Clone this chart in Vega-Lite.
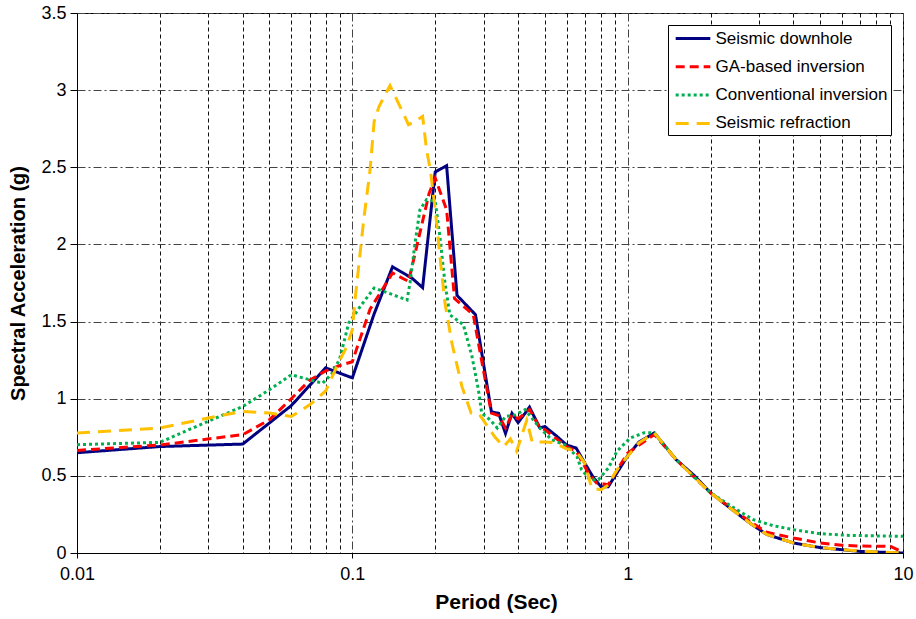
{
  "$schema": "https://vega.github.io/schema/vega-lite/v6.json",
  "autosize": "none",
  "width": 826,
  "height": 540,
  "padding": {"left": 77, "top": 13, "right": 13, "bottom": 66},
  "background": "white",
  "config": {
    "font": "Liberation Sans",
    "view": {"stroke": "black", "strokeWidth": 1}
  },
  "data": {"values": [
    {"series":"Seismic downhole","T":0.01,"Sa":0.65},
    {"series":"Seismic downhole","T":0.02,"Sa":0.69},
    {"series":"Seismic downhole","T":0.04,"Sa":0.706},
    {"series":"Seismic downhole","T":0.06,"Sa":0.955},
    {"series":"Seismic downhole","T":0.08,"Sa":1.2},
    {"series":"Seismic downhole","T":0.1,"Sa":1.135},
    {"series":"Seismic downhole","T":0.12,"Sa":1.55},
    {"series":"Seismic downhole","T":0.14,"Sa":1.855},
    {"series":"Seismic downhole","T":0.165,"Sa":1.78},
    {"series":"Seismic downhole","T":0.18,"Sa":1.72},
    {"series":"Seismic downhole","T":0.2,"Sa":2.47},
    {"series":"Seismic downhole","T":0.22,"Sa":2.51},
    {"series":"Seismic downhole","T":0.24,"Sa":1.67},
    {"series":"Seismic downhole","T":0.28,"Sa":1.545},
    {"series":"Seismic downhole","T":0.32,"Sa":0.915},
    {"series":"Seismic downhole","T":0.34,"Sa":0.905},
    {"series":"Seismic downhole","T":0.36,"Sa":0.775},
    {"series":"Seismic downhole","T":0.38,"Sa":0.905},
    {"series":"Seismic downhole","T":0.4,"Sa":0.845},
    {"series":"Seismic downhole","T":0.44,"Sa":0.945},
    {"series":"Seismic downhole","T":0.48,"Sa":0.81},
    {"series":"Seismic downhole","T":0.5,"Sa":0.82},
    {"series":"Seismic downhole","T":0.55,"Sa":0.76},
    {"series":"Seismic downhole","T":0.6,"Sa":0.7},
    {"series":"Seismic downhole","T":0.65,"Sa":0.68},
    {"series":"Seismic downhole","T":0.7,"Sa":0.58},
    {"series":"Seismic downhole","T":0.75,"Sa":0.49},
    {"series":"Seismic downhole","T":0.8,"Sa":0.43},
    {"series":"Seismic downhole","T":0.85,"Sa":0.43},
    {"series":"Seismic downhole","T":0.9,"Sa":0.5},
    {"series":"Seismic downhole","T":1.0,"Sa":0.63},
    {"series":"Seismic downhole","T":1.1,"Sa":0.72},
    {"series":"Seismic downhole","T":1.25,"Sa":0.778},
    {"series":"Seismic downhole","T":1.5,"Sa":0.605},
    {"series":"Seismic downhole","T":1.75,"Sa":0.5},
    {"series":"Seismic downhole","T":2.0,"Sa":0.39},
    {"series":"Seismic downhole","T":2.4,"Sa":0.28},
    {"series":"Seismic downhole","T":2.8,"Sa":0.19},
    {"series":"Seismic downhole","T":3.2,"Sa":0.12},
    {"series":"Seismic downhole","T":4,"Sa":0.065},
    {"series":"Seismic downhole","T":5,"Sa":0.035},
    {"series":"Seismic downhole","T":7,"Sa":0.01},
    {"series":"Seismic downhole","T":10,"Sa":0.0},

    {"series":"GA-based inversion","T":0.01,"Sa":0.665},
    {"series":"GA-based inversion","T":0.02,"Sa":0.7},
    {"series":"GA-based inversion","T":0.04,"Sa":0.767},
    {"series":"GA-based inversion","T":0.05,"Sa":0.864},
    {"series":"GA-based inversion","T":0.06,"Sa":1.0},
    {"series":"GA-based inversion","T":0.07,"Sa":1.12},
    {"series":"GA-based inversion","T":0.08,"Sa":1.18},
    {"series":"GA-based inversion","T":0.09,"Sa":1.215},
    {"series":"GA-based inversion","T":0.1,"Sa":1.24},
    {"series":"GA-based inversion","T":0.116,"Sa":1.58},
    {"series":"GA-based inversion","T":0.14,"Sa":1.815},
    {"series":"GA-based inversion","T":0.16,"Sa":1.76},
    {"series":"GA-based inversion","T":0.19,"Sa":2.33},
    {"series":"GA-based inversion","T":0.2,"Sa":2.43},
    {"series":"GA-based inversion","T":0.22,"Sa":2.225},
    {"series":"GA-based inversion","T":0.235,"Sa":1.65},
    {"series":"GA-based inversion","T":0.275,"Sa":1.544},
    {"series":"GA-based inversion","T":0.29,"Sa":1.317},
    {"series":"GA-based inversion","T":0.32,"Sa":0.907},
    {"series":"GA-based inversion","T":0.34,"Sa":0.89},
    {"series":"GA-based inversion","T":0.36,"Sa":0.81},
    {"series":"GA-based inversion","T":0.38,"Sa":0.896},
    {"series":"GA-based inversion","T":0.4,"Sa":0.87},
    {"series":"GA-based inversion","T":0.44,"Sa":0.93},
    {"series":"GA-based inversion","T":0.48,"Sa":0.81},
    {"series":"GA-based inversion","T":0.5,"Sa":0.8},
    {"series":"GA-based inversion","T":0.6,"Sa":0.69},
    {"series":"GA-based inversion","T":0.65,"Sa":0.66},
    {"series":"GA-based inversion","T":0.72,"Sa":0.518},
    {"series":"GA-based inversion","T":0.77,"Sa":0.454},
    {"series":"GA-based inversion","T":0.85,"Sa":0.443},
    {"series":"GA-based inversion","T":1.0,"Sa":0.648},
    {"series":"GA-based inversion","T":1.25,"Sa":0.768},
    {"series":"GA-based inversion","T":1.5,"Sa":0.605},
    {"series":"GA-based inversion","T":2.0,"Sa":0.39},
    {"series":"GA-based inversion","T":2.4,"Sa":0.285},
    {"series":"GA-based inversion","T":2.8,"Sa":0.2},
    {"series":"GA-based inversion","T":3.2,"Sa":0.135},
    {"series":"GA-based inversion","T":4,"Sa":0.097},
    {"series":"GA-based inversion","T":5,"Sa":0.065},
    {"series":"GA-based inversion","T":6,"Sa":0.05},
    {"series":"GA-based inversion","T":7,"Sa":0.045},
    {"series":"GA-based inversion","T":9,"Sa":0.043},
    {"series":"GA-based inversion","T":10,"Sa":0.005},

    {"series":"Conventional inversion","T":0.01,"Sa":0.702},
    {"series":"Conventional inversion","T":0.02,"Sa":0.717},
    {"series":"Conventional inversion","T":0.028,"Sa":0.831},
    {"series":"Conventional inversion","T":0.04,"Sa":0.95},
    {"series":"Conventional inversion","T":0.05,"Sa":1.058},
    {"series":"Conventional inversion","T":0.06,"Sa":1.155},
    {"series":"Conventional inversion","T":0.07,"Sa":1.123},
    {"series":"Conventional inversion","T":0.078,"Sa":1.1},
    {"series":"Conventional inversion","T":0.085,"Sa":1.17},
    {"series":"Conventional inversion","T":0.09,"Sa":1.26},
    {"series":"Conventional inversion","T":0.097,"Sa":1.49},
    {"series":"Conventional inversion","T":0.107,"Sa":1.6},
    {"series":"Conventional inversion","T":0.12,"Sa":1.717},
    {"series":"Conventional inversion","T":0.135,"Sa":1.685},
    {"series":"Conventional inversion","T":0.158,"Sa":1.64},
    {"series":"Conventional inversion","T":0.162,"Sa":1.75},
    {"series":"Conventional inversion","T":0.169,"Sa":2.01},
    {"series":"Conventional inversion","T":0.176,"Sa":2.225},
    {"series":"Conventional inversion","T":0.186,"Sa":2.29},
    {"series":"Conventional inversion","T":0.2,"Sa":2.28},
    {"series":"Conventional inversion","T":0.208,"Sa":2.05},
    {"series":"Conventional inversion","T":0.217,"Sa":1.75},
    {"series":"Conventional inversion","T":0.226,"Sa":1.544},
    {"series":"Conventional inversion","T":0.253,"Sa":1.48},
    {"series":"Conventional inversion","T":0.272,"Sa":1.274},
    {"series":"Conventional inversion","T":0.287,"Sa":1.058},
    {"series":"Conventional inversion","T":0.295,"Sa":0.907},
    {"series":"Conventional inversion","T":0.316,"Sa":0.864},
    {"series":"Conventional inversion","T":0.336,"Sa":0.81},
    {"series":"Conventional inversion","T":0.36,"Sa":0.885},
    {"series":"Conventional inversion","T":0.39,"Sa":0.895},
    {"series":"Conventional inversion","T":0.424,"Sa":0.929},
    {"series":"Conventional inversion","T":0.48,"Sa":0.81},
    {"series":"Conventional inversion","T":0.53,"Sa":0.734},
    {"series":"Conventional inversion","T":0.593,"Sa":0.7},
    {"series":"Conventional inversion","T":0.654,"Sa":0.626},
    {"series":"Conventional inversion","T":0.68,"Sa":0.54},
    {"series":"Conventional inversion","T":0.73,"Sa":0.475},
    {"series":"Conventional inversion","T":0.783,"Sa":0.475},
    {"series":"Conventional inversion","T":0.851,"Sa":0.551},
    {"series":"Conventional inversion","T":0.913,"Sa":0.658},
    {"series":"Conventional inversion","T":1.02,"Sa":0.745},
    {"series":"Conventional inversion","T":1.15,"Sa":0.78},
    {"series":"Conventional inversion","T":1.25,"Sa":0.778},
    {"series":"Conventional inversion","T":1.5,"Sa":0.605},
    {"series":"Conventional inversion","T":2.0,"Sa":0.39},
    {"series":"Conventional inversion","T":2.49,"Sa":0.281},
    {"series":"Conventional inversion","T":2.86,"Sa":0.216},
    {"series":"Conventional inversion","T":3.38,"Sa":0.177},
    {"series":"Conventional inversion","T":4,"Sa":0.151},
    {"series":"Conventional inversion","T":5,"Sa":0.125},
    {"series":"Conventional inversion","T":6.43,"Sa":0.114},
    {"series":"Conventional inversion","T":10,"Sa":0.108},

    {"series":"Seismic refraction","T":0.01,"Sa":0.778},
    {"series":"Seismic refraction","T":0.02,"Sa":0.81},
    {"series":"Seismic refraction","T":0.03,"Sa":0.875},
    {"series":"Seismic refraction","T":0.04,"Sa":0.918},
    {"series":"Seismic refraction","T":0.05,"Sa":0.907},
    {"series":"Seismic refraction","T":0.06,"Sa":0.885},
    {"series":"Seismic refraction","T":0.07,"Sa":0.96},
    {"series":"Seismic refraction","T":0.08,"Sa":1.05},
    {"series":"Seismic refraction","T":0.09,"Sa":1.25},
    {"series":"Seismic refraction","T":0.095,"Sa":1.33},
    {"series":"Seismic refraction","T":0.1,"Sa":1.447},
    {"series":"Seismic refraction","T":0.102,"Sa":1.62},
    {"series":"Seismic refraction","T":0.11,"Sa":2.16},
    {"series":"Seismic refraction","T":0.116,"Sa":2.484},
    {"series":"Seismic refraction","T":0.12,"Sa":2.797},
    {"series":"Seismic refraction","T":0.125,"Sa":2.894},
    {"series":"Seismic refraction","T":0.137,"Sa":3.03},
    {"series":"Seismic refraction","T":0.147,"Sa":2.916},
    {"series":"Seismic refraction","T":0.16,"Sa":2.776},
    {"series":"Seismic refraction","T":0.165,"Sa":2.787},
    {"series":"Seismic refraction","T":0.18,"Sa":2.83},
    {"series":"Seismic refraction","T":0.186,"Sa":2.614},
    {"series":"Seismic refraction","T":0.192,"Sa":2.484},
    {"series":"Seismic refraction","T":0.2,"Sa":2.225},
    {"series":"Seismic refraction","T":0.208,"Sa":1.922},
    {"series":"Seismic refraction","T":0.217,"Sa":1.62},
    {"series":"Seismic refraction","T":0.23,"Sa":1.36},
    {"series":"Seismic refraction","T":0.25,"Sa":1.08},
    {"series":"Seismic refraction","T":0.27,"Sa":0.907},
    {"series":"Seismic refraction","T":0.29,"Sa":0.896},
    {"series":"Seismic refraction","T":0.33,"Sa":0.75},
    {"series":"Seismic refraction","T":0.355,"Sa":0.69},
    {"series":"Seismic refraction","T":0.375,"Sa":0.74},
    {"series":"Seismic refraction","T":0.395,"Sa":0.66},
    {"series":"Seismic refraction","T":0.43,"Sa":0.86},
    {"series":"Seismic refraction","T":0.45,"Sa":0.72},
    {"series":"Seismic refraction","T":0.5,"Sa":0.72},
    {"series":"Seismic refraction","T":0.54,"Sa":0.715},
    {"series":"Seismic refraction","T":0.6,"Sa":0.675},
    {"series":"Seismic refraction","T":0.65,"Sa":0.66},
    {"series":"Seismic refraction","T":0.7,"Sa":0.58},
    {"series":"Seismic refraction","T":0.74,"Sa":0.42},
    {"series":"Seismic refraction","T":0.8,"Sa":0.41},
    {"series":"Seismic refraction","T":0.85,"Sa":0.44},
    {"series":"Seismic refraction","T":0.9,"Sa":0.52},
    {"series":"Seismic refraction","T":0.95,"Sa":0.58},
    {"series":"Seismic refraction","T":1.1,"Sa":0.715},
    {"series":"Seismic refraction","T":1.25,"Sa":0.778},
    {"series":"Seismic refraction","T":1.5,"Sa":0.605},
    {"series":"Seismic refraction","T":2.0,"Sa":0.39},
    {"series":"Seismic refraction","T":2.4,"Sa":0.28},
    {"series":"Seismic refraction","T":2.8,"Sa":0.19},
    {"series":"Seismic refraction","T":3.2,"Sa":0.12},
    {"series":"Seismic refraction","T":4,"Sa":0.065},
    {"series":"Seismic refraction","T":5,"Sa":0.035},
    {"series":"Seismic refraction","T":7,"Sa":0.012},
    {"series":"Seismic refraction","T":10,"Sa":0.0}
  ]},
  "mark": {"type": "line", "strokeWidth": 3, "clip": true},
  "encoding": {
    "x": {
      "field": "T", "type": "quantitative",
      "scale": {"type": "log", "domain": [0.01, 10], "nice": false},
      "axis": {
        "values": [0.01,0.02,0.03,0.04,0.05,0.06,0.07,0.08,0.09,0.1,0.2,0.3,0.4,0.5,0.6,0.7,0.8,0.9,1,2,3,4,5,6,7,8,9,10],
        "labelExpr": "abs(log(datum.value)/LN10 - round(log(datum.value)/LN10)) < 1e-6 ? toString(datum.value) : ''",
        "labelOverlap": false,
        "labelFlush": false,
        "labelFontSize": 18,
        "labelColor": "black",
        "labelPadding": 7,
        "tickSize": 5,
        "tickColor": "black",
        "tickOpacity": {"condition": {"test": "abs(log(datum.value)/LN10 - round(log(datum.value)/LN10)) < 1e-6", "value": 1}, "value": 0},
        "domainColor": "black",
        "grid": true,
        "gridColor": {"condition": {"test": "abs(log(datum.value)/LN10 - round(log(datum.value)/LN10)) < 1e-6", "value": "#444444"}, "value": "#111111"},
        "gridDash": {"condition": {"test": "abs(log(datum.value)/LN10 - round(log(datum.value)/LN10)) < 1e-6", "value": [8, 3, 2, 3]}, "value": [4, 3]},
        "gridOpacity": 1,
        "title": "Period  (Sec)",
        "titleFontSize": 21,
        "titleFontWeight": "bold",
        "titleColor": "black",
        "titlePadding": 8,
        "titleX": 419
      }
    },
    "y": {
      "field": "Sa", "type": "quantitative",
      "scale": {"domain": [0, 3.5], "nice": false},
      "axis": {
        "values": [0, 0.5, 1, 1.5, 2, 2.5, 3, 3.5],
        "format": "~g",
        "labelFontSize": 18,
        "labelColor": "black",
        "labelPadding": 4,
        "tickSize": 7,
        "tickColor": "black",
        "domainColor": "black",
        "grid": true,
        "gridColor": "#444444",
        "gridDash": [8, 3, 2, 3],
        "gridOpacity": 1,
        "title": "Spectral  Acceleration  (g)",
        "titleFontSize": 20,
        "titleFontWeight": "bold",
        "titleColor": "black",
        "titlePadding": 12
      }
    },
    "color": {
      "field": "series", "type": "nominal",
      "scale": {
        "domain": ["Seismic downhole", "GA-based inversion", "Conventional inversion", "Seismic refraction"],
        "range": ["#000080", "#FF0000", "#00B050", "#FFC000"]
      },
      "legend": {
        "title": null,
        "orient": "top-right",
        "offset": 12,
        "fillColor": "white",
        "strokeColor": "black",
        "padding": 3,
        "rowPadding": 9.3,
        "symbolType": "M-2,0H2",
        "symbolSize": 300,
        "symbolOffset": 11.5,
        "symbolStrokeWidth": 3,
        "labelFontSize": 17,
        "labelColor": "black",
        "labelOffset": 12,
        "labelLimit": 300
      }
    },
    "strokeDash": {
      "field": "series", "type": "nominal",
      "scale": {
        "domain": ["Seismic downhole", "GA-based inversion", "Conventional inversion", "Seismic refraction"],
        "range": [[1, 0], [9, 5], [3, 3], [13, 8]]
      },
      "legend": {
        "title": null,
        "orient": "top-right",
        "offset": 12,
        "fillColor": "white",
        "strokeColor": "black",
        "padding": 3,
        "rowPadding": 9.3,
        "symbolType": "M-2,0H2",
        "symbolSize": 300,
        "symbolOffset": 11.5,
        "symbolStrokeWidth": 3,
        "labelFontSize": 17,
        "labelColor": "black",
        "labelOffset": 12,
        "labelLimit": 300
      }
    }
  }
}
